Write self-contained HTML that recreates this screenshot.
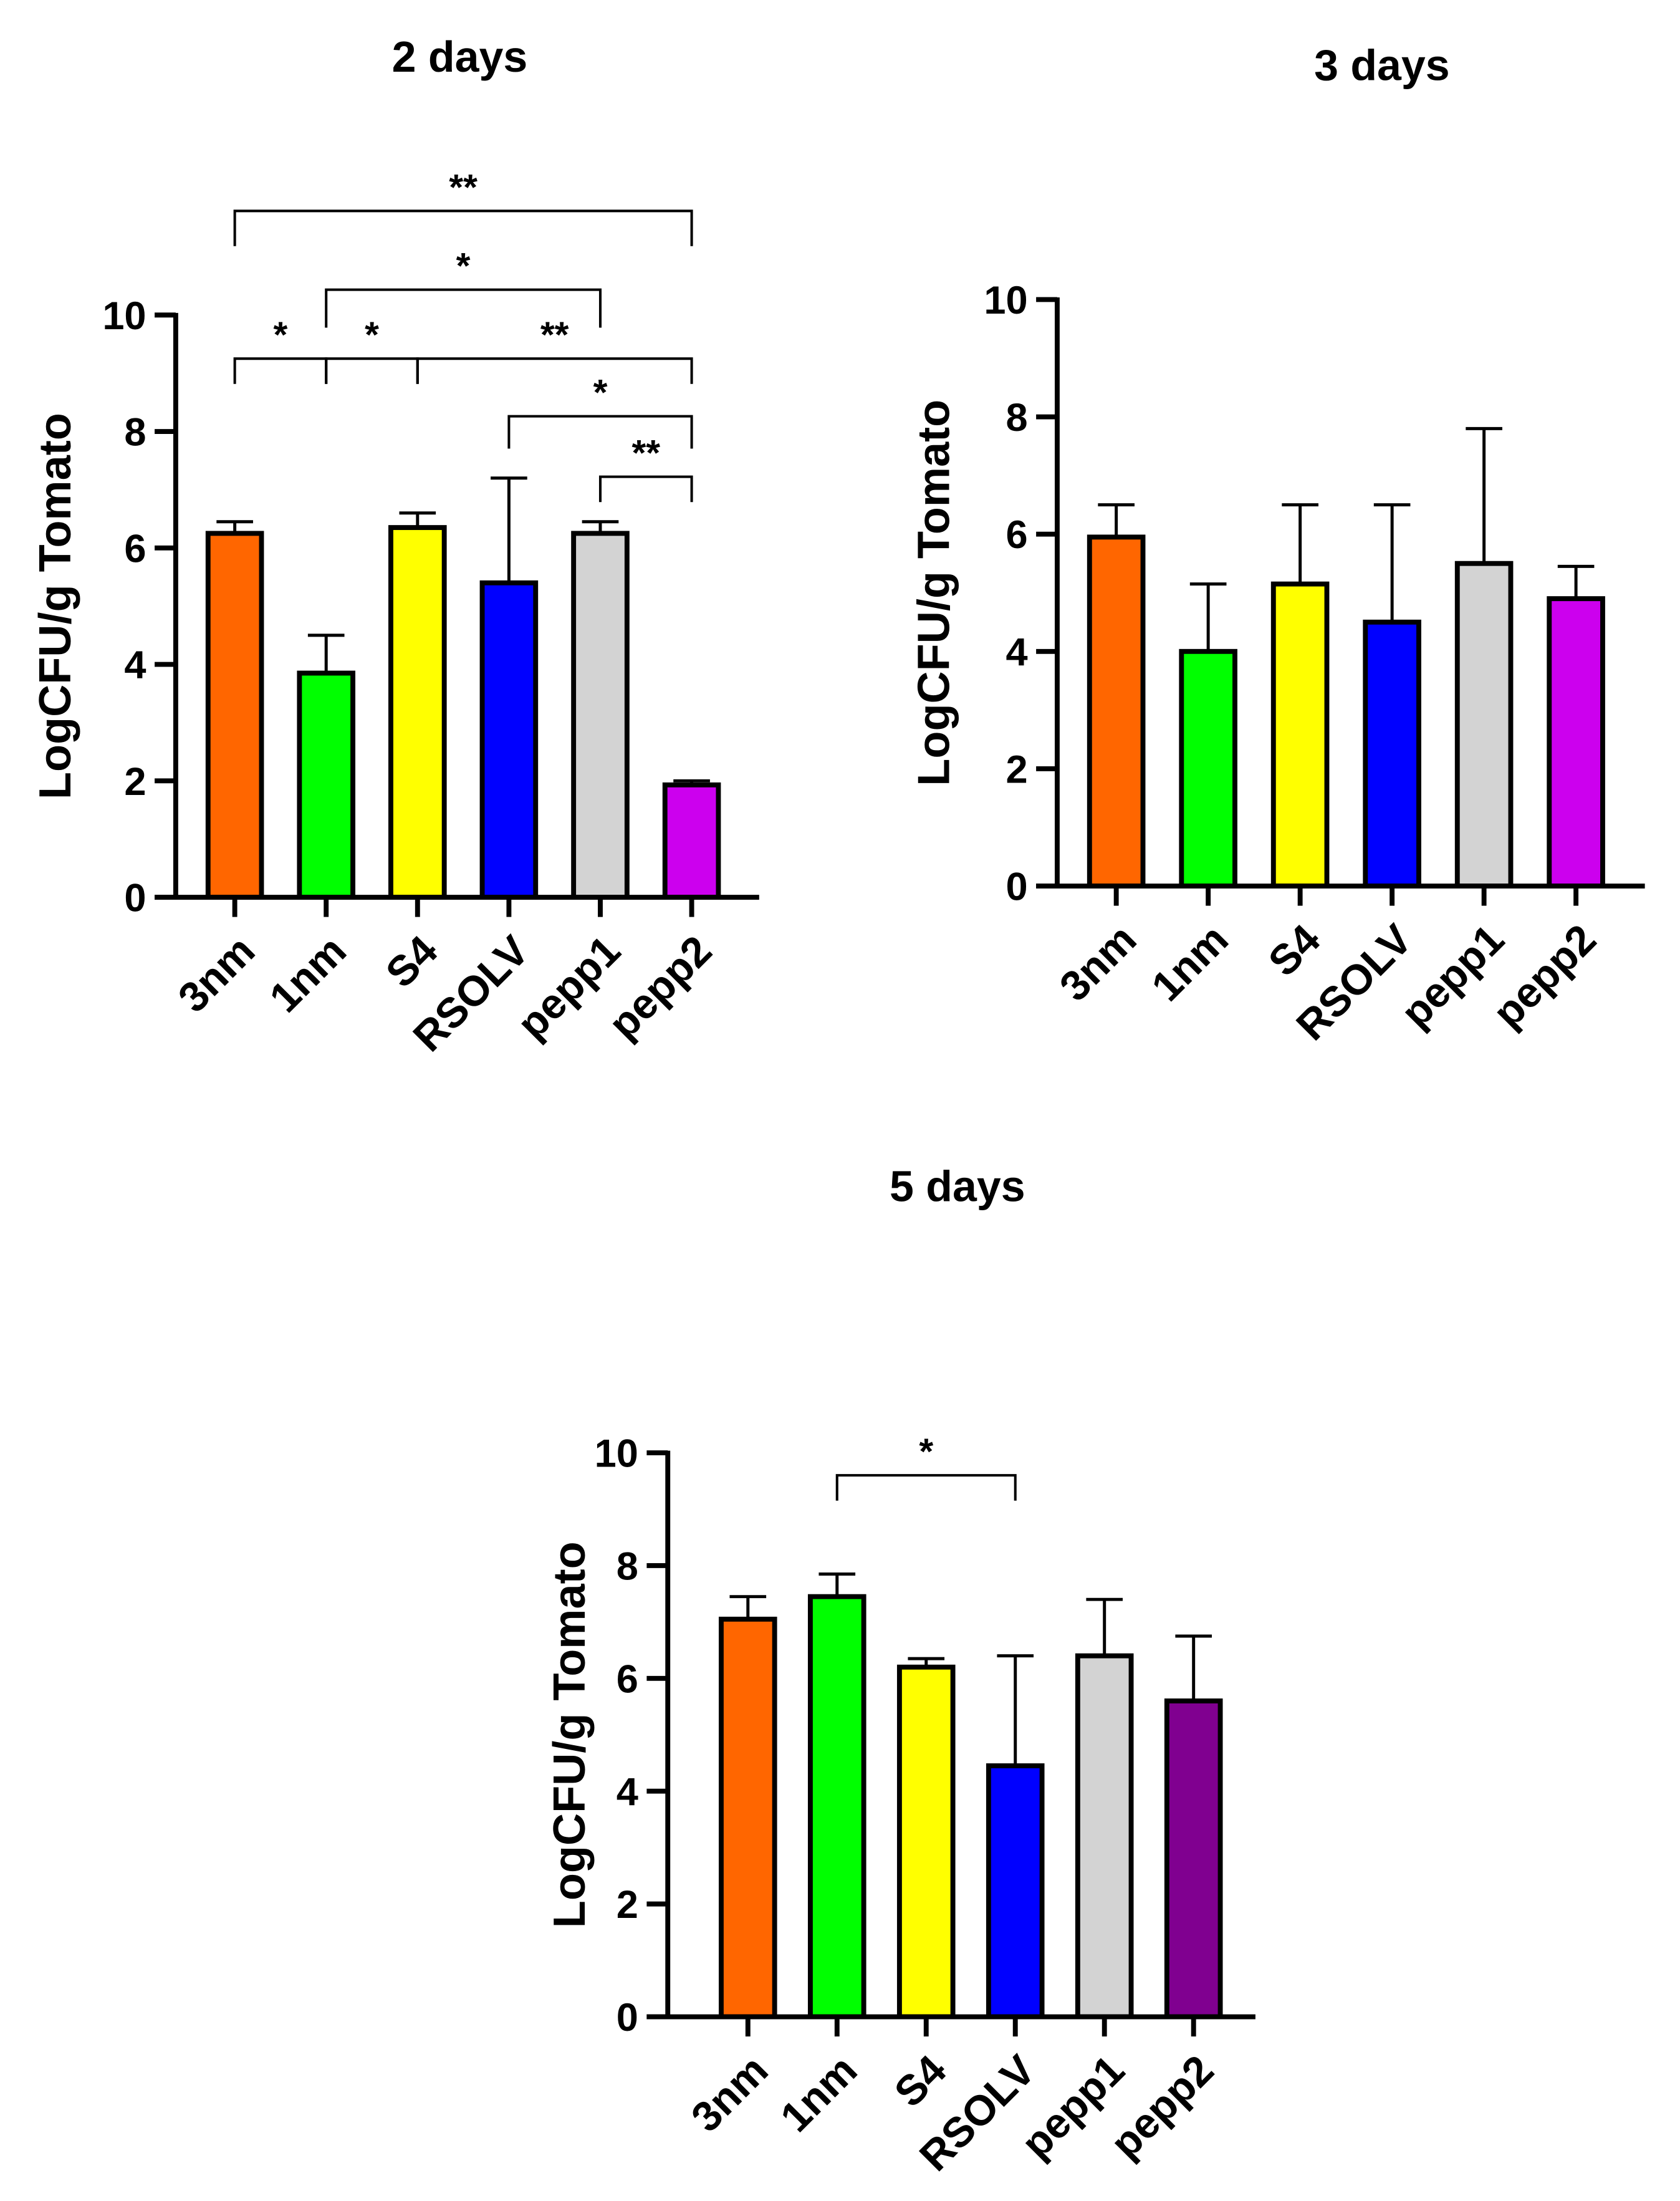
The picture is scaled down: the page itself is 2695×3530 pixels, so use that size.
<!DOCTYPE html>
<html><head><meta charset="utf-8"><style>
html,body{margin:0;padding:0;background:#fff;}
svg{display:block;}
text{font-family:"Liberation Sans",Arial,sans-serif;font-weight:bold;fill:#000;}
</style></head><body>
<svg id="fig" width="2695" height="3530" viewBox="0 0 1195 1565" preserveAspectRatio="none" xmlns="http://www.w3.org/2000/svg"></svg>
<script>
const categories = ["3nm","1nm","S4","RSOLV","pepp1","pepp2"];
const values2d = [6.25,3.85,6.35,5.4,6.25,1.93];
const errTop2d = [6.45,4.5,6.6,7.2,6.45,2.0];
const values3d = [5.95,4.0,5.15,4.5,5.5,4.9];
const errTop3d = [6.5,5.15,6.5,6.5,7.8,5.45];
const values5d = [7.05,7.45,6.2,4.45,6.4,5.6];
const errTop5d = [7.45,7.85,6.35,6.4,7.4,6.75];
const yTicks = [0,2,4,6,8,10];
const colors1 = ["#ff6600","#00ff00","#ffff00","#0000ff","#d3d3d3","#cc00ee"];
const colors3 = ["#ff6600","#00ff00","#ffff00","#0000ff","#d3d3d3","#800090"];
const sig2d = [[0,5,"**",150,175],[1,4,"*",206,233],[0,1,"*",255,273],[1,2,"*",255,273],[2,5,"**",255,273],[3,5,"*",296,319],[4,5,"**",339,357]];
const sig5d = [[1,3,"*",1049,1067]];

const NS="http://www.w3.org/2000/svg";
const svg=document.getElementById('fig');
function mk(tag,attrs,parent){const e=document.createElementNS(NS,tag);for(const k in attrs)e.setAttribute(k,attrs[k]);(parent||svg).appendChild(e);return e;}

function chart(cfg){
  const g=mk('g',{});
  
  
  const y=v=>cfg.y0-(cfg.y0-cfg.y10)*v/10;
  const x=i=>cfg.x0+cfg.step*i;
  const t=mk('text',{x:cfg.tx,y:cfg.ty,'font-size':31,'text-anchor':'middle'},g);t.textContent=cfg.title;
  
  
  const yl=mk('text',{x:0,y:0,'font-size':32,'text-anchor':'middle',transform:`translate(${cfg.lx},${(cfg.y0+cfg.y10)/2}) rotate(-90)`},g);yl.textContent="LogCFU/g Tomato";
  
  
  cfg.vals.forEach((v,i)=>{
    const cx=x(i),w=38;
    const el=mk('line',{x1:cx,x2:cx,y1:y(v),y2:y(cfg.err[i]),stroke:'#000','stroke-width':2.2},g);
    
    
    const ec=mk('line',{x1:cx-13,x2:cx+13,y1:y(cfg.err[i]),y2:y(cfg.err[i]),stroke:'#000','stroke-width':2.2},g);
    
    
    const r=mk('rect',{x:cx-w/2,y:y(v),width:w,height:cfg.y0-y(v),fill:cfg.colors[i],stroke:'#000','stroke-width':3.5},g);
    
    
    const tk=mk('line',{x1:cx,x2:cx,y1:cfg.y0,y2:cfg.y0+14,stroke:'#000','stroke-width':3.5},g);
    
    
    const lb=mk('text',{x:0,y:0,'font-size':30,'text-anchor':'end',transform:`translate(${cx+16},${cfg.y0+40}) rotate(-45)`},g);lb.textContent=categories[i];
    
    
  });
  const ya=mk('line',{x1:cfg.ax,x2:cfg.ax,y1:cfg.y10-1.5,y2:cfg.y0,stroke:'#000','stroke-width':3.5},g);
  
  
  const xa=mk('line',{x1:cfg.ax-15,x2:cfg.xend,y1:cfg.y0,y2:cfg.y0,stroke:'#000','stroke-width':3.5},g);
  
  
  yTicks.forEach(v=>{
    const tl=mk('line',{x1:cfg.ax-15,x2:cfg.ax,y1:y(v),y2:y(v),stroke:'#000','stroke-width':3.5},g);
    
    
    const tt=mk('text',{x:cfg.ax-21,y:y(v)+10,'font-size':28,'text-anchor':'end'},g);tt.textContent=v;
    
    
  });
  (cfg.sig||[]).forEach(s=>{
    const a=x(s[0]),b=x(s[1]);
    const p=mk('path',{d:`M${a} ${s[4]} V${s[3]} H${b} V${s[4]}`,fill:'none',stroke:'#000','stroke-width':1.8},g);
    
    
    const st=mk('text',{x:(a+b)/2,y:s[3]-8,'font-size':26,'text-anchor':'middle'},g);st.textContent=s[2];
    
    
  });
}
chart({name:'chart-2-days',title:'2 days',tx:327,ty:51,lx:50,ax:125,y0:638,y10:224,x0:167,step:65,xend:540,vals:values2d,err:errTop2d,colors:colors1,sig:sig2d});
chart({name:'chart-3-days',title:'3 days',tx:983,ty:57,lx:675,ax:752,y0:630,y10:213,x0:794,step:65.4,xend:1170,vals:values3d,err:errTop3d,colors:colors1});
chart({name:'chart-5-days',title:'5 days',tx:681,ty:854,lx:416,ax:475,y0:1434,y10:1033,x0:532,step:63.4,xend:893,vals:values5d,err:errTop5d,colors:colors3,sig:sig5d});
</script>
</body></html>
